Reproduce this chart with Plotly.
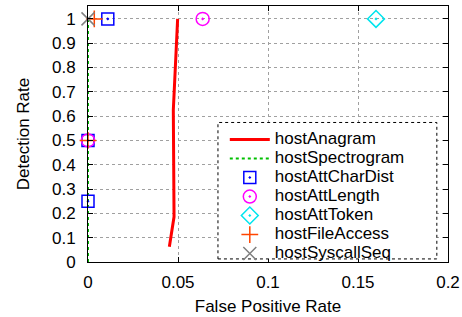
import plotly.graph_objects as go

# Data
anagram_fpr = [0.0452, 0.0478, 0.0474, 0.0498]
anagram_dr = [0.063, 0.186, 0.625, 1.0]
spectro_fpr = [0.0, 0.0]
spectro_dr = [0.0, 1.0]
chardist_fpr = [0.011, 0.0, 0.0]
chardist_dr = [1.0, 0.5, 0.25]
length_fpr = [0.0637, 0.0]
length_dr = [1.0, 0.5]
token_fpr = [0.160]
token_dr = [1.0]
fileacc_fpr = [0.0035, 0.0]
fileacc_dr = [1.0, 0.5]
syscall_fpr = [0.0]
syscall_dr = [1.0]

series_names = ["hostAnagram", "hostSpectrogram", "hostAttCharDist", "hostAttLength",
                "hostAttToken", "hostFileAccess", "hostSyscallSeq"]

x_ticks = [0, 0.05, 0.1, 0.15, 0.2]
x_ticklabels = ["0", "0.05", "0.1", "0.15", "0.2"]
y_ticks = [0, 0.1, 0.2, 0.3, 0.4, 0.5, 0.6, 0.7, 0.8, 0.9, 1.0]
y_ticklabels = ["0", "0.1", "0.2", "0.3", "0.4", "0.5", "0.6", "0.7", "0.8", "0.9", "1"]

FONT = "Liberation Sans, Arial, Helvetica, sans-serif"
FS = 17


def lname(s):
    return '<span style="font-size:%dpx">%s</span>' % (FS, s)


fig = go.Figure()
fig.add_trace(go.Scatter(x=anagram_fpr, y=anagram_dr, mode="lines", name=lname(series_names[0]),
                         line=dict(color="#ff0000", width=3)))
fig.add_trace(go.Scatter(x=spectro_fpr, y=spectro_dr, mode="lines", name=lname(series_names[1]),
                         line=dict(color="#00c000", width=2, dash="dot"), cliponaxis=False))
fig.add_trace(go.Scatter(x=chardist_fpr, y=chardist_dr, mode="markers", name=lname(series_names[2]),
                         cliponaxis=False,
                         marker=dict(symbol="square-open-dot", color="#0000ff", size=12,
                                     line=dict(width=1.5, color="#0000ff"))))
fig.add_trace(go.Scatter(x=length_fpr, y=length_dr, mode="markers", name=lname(series_names[3]),
                         cliponaxis=False,
                         marker=dict(symbol="circle-open-dot", color="#ff00ff", size=13,
                                     line=dict(width=1.5, color="#ff00ff"))))
fig.add_trace(go.Scatter(x=token_fpr, y=token_dr, mode="markers", name=lname(series_names[4]),
                         cliponaxis=False,
                         marker=dict(symbol="diamond-open-dot", color="#00e5ee", size=13,
                                     line=dict(width=1.5, color="#00e5ee"))))
fig.add_trace(go.Scatter(x=fileacc_fpr, y=fileacc_dr, mode="markers", name=lname(series_names[5]),
                         cliponaxis=False,
                         marker=dict(symbol="cross-thin-open", color="#ff4500", size=12,
                                     line=dict(width=1.5, color="#ff4500"))))
fig.add_trace(go.Scatter(x=syscall_fpr, y=syscall_dr, mode="markers", name=lname(series_names[6]),
                         cliponaxis=False,
                         marker=dict(symbol="x-thin-open", color="#808080", size=13,
                                     line=dict(width=1.5, color="#808080"))))

axis_common = dict(
    showline=True, linecolor="black", linewidth=1, mirror="ticks",
    ticks="inside", ticklen=5, tickcolor="black",
    showgrid=True, gridcolor="#a0a0a0", griddash="dot", gridwidth=1,
    zeroline=False, tickfont=dict(family=FONT, size=FS, color="black"),
)

fig.update_xaxes(range=[0, 0.2], tickvals=x_ticks, ticktext=x_ticklabels, ticklabelstandoff=5,
                 title=dict(text="False Positive Rate", font=dict(family=FONT, size=FS, color="black"), standoff=8),
                 **axis_common)
fig.update_yaxes(range=[0, 1.053], tickvals=y_ticks, ticktext=y_ticklabels, ticklabelstandoff=8,
                 title=dict(text="Detection Rate", font=dict(family=FONT, size=FS, color="black"), standoff=18),
                 **axis_common)

# dotted legend frame (decoration only, paper coordinates)
fig.add_shape(type="rect", xref="paper", yref="paper", x0=0.361, x1=0.969, y0=0.012, y1=0.545,
              line=dict(color="black", width=1, dash="dot"), fillcolor="white", layer="above")

fig.update_layout(
    width=462, height=317,
    margin=dict(l=88, r=14, t=6, b=55, autoexpand=False),
    plot_bgcolor="white", paper_bgcolor="white",
    font=dict(family=FONT, size=FS, color="black"),
    legend=dict(x=0.38, y=0.535, xanchor="left", yanchor="top",
                bgcolor="rgba(0,0,0,0)", borderwidth=0,
                font=dict(family=FONT, size=11, color="black"),
                tracegroupgap=0, itemwidth=40),
    showlegend=True,
)

fig.write_html("out.html", config={"displayModeBar": False},
               post_script="document.body.style.margin='0';document.body.style.padding='0';")
